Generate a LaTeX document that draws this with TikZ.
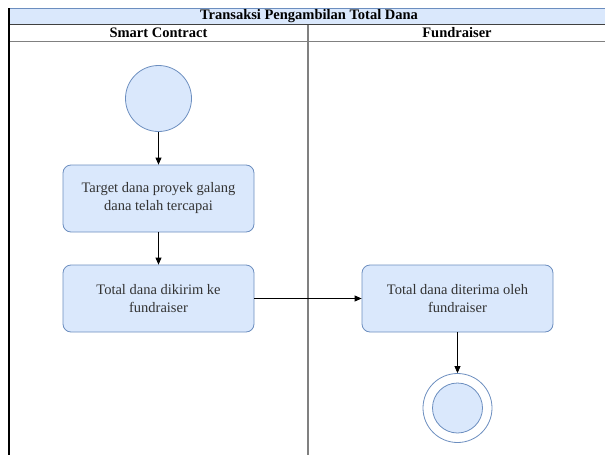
\documentclass[tikz,border=0pt]{standalone}
\usepackage{fontspec}
\setmainfont{LiberationSerif}[Extension=.ttf, UprightFont=*-Regular, BoldFont=*-Bold, ItalicFont=*-Italic, BoldItalicFont=*-BoldItalic]
\usetikzlibrary{arrows.meta}
\definecolor{actfill}{HTML}{DAE8FC}
\definecolor{actdraw}{HTML}{6C8EBF}
\definecolor{lanegray}{HTML}{808080}
\definecolor{txtgray}{HTML}{333333}
\begin{document}
\begin{tikzpicture}[x=1pt,y=-1pt,
    action/.style={draw=actdraw, fill=actfill, rounded corners=8pt, minimum width=191pt,
        minimum height=67pt, align=center, text=txtgray, line width=0.8pt,
        font=\fontsize{14.5}{18}\selectfont},
    dot/.style={circle, draw=actdraw, fill=actfill, line width=0.8pt, inner sep=0pt},
    flow/.style={-{Triangle[length=7pt,width=6pt]}, line width=0.8pt, black},
    header/.style={font=\bfseries\fontsize{14.5}{17}\selectfont}]
        \useasboundingbox (0,0) rectangle (605,455);

        % Draw the pool and the lanes
        \fill[actfill] (9,8) rectangle (606,24.5);
        \draw[actdraw] (9,8) -- (606,8);
        \draw[darkgray, line width=1pt] (9,24.5) -- (606,24.5);
        \draw[lanegray, line width=1pt] (9,41) -- (606,41);
        \draw[black, line width=1.2pt] (9,8) -- (9,455);
        \draw[lanegray, line width=1.5pt] (308,24.5) -- (308,455);

        % Add the titles
        \node[header] (pool) at (309,16.5) {Transaksi Pengambilan Total Dana};
        \node[header] (laneA) at (158.5,33) {Smart Contract};
        \node[header] (laneB) at (457,33) {Fundraiser};

        % Add the activities
        \node[dot, minimum size=66pt] (start) at (158.5,98.5) {};
        \node[action] (target) at (158.5,198.5) {Target dana proyek galang\\dana telah tercapai};
        \node[action] (kirim) at (158.5,298.5) {Total dana dikirim ke\\fundraiser};
        \node[action] (terima) at (457.5,298.5) {Total dana diterima oleh\\fundraiser};
        \node[circle, draw=actdraw, line width=0.8pt, inner sep=0pt, minimum size=69pt] (endring) at (457.5,408) {};
        \node[dot, minimum size=50pt] (end) at (457.5,408) {};

        % Draw the flows
        \draw[flow] (start) -- (target);
        \draw[flow] (target) -- (kirim);
        \draw[flow] (kirim) -- (terima);
        \draw[flow] (terima) -- (endring);
    \end{tikzpicture}
\end{document}
